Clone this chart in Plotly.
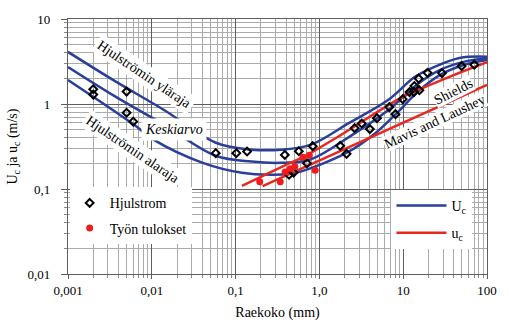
import plotly.graph_objects as go

# ---------------- data (grain size mm, velocity m/s) ----------------
upper_x = [0.001, 0.0036, 0.014, 0.058, 0.155, 0.35, 0.78, 2.27, 6.66, 13.7, 23.5, 47, 100]
upper_y = [4.1, 1.87, 0.85, 0.35, 0.29, 0.29, 0.33, 0.60, 1.12, 2.08, 2.73, 3.48, 3.6]

mean_x = [0.001, 0.0036, 0.014, 0.058, 0.155, 0.35, 0.78, 2.27, 6.66, 14.9, 27.6, 52.5, 100]
mean_y = [2.73, 1.24, 0.57, 0.246, 0.21, 0.203, 0.222, 0.41, 0.85, 1.72, 2.52, 3.13, 3.45]

lower_x = [0.001, 0.006, 0.0106, 0.0406, 0.119, 0.265, 0.45, 0.594, 2.1, 4.69, 8.69, 14.9, 27.6, 52.5, 100]
lower_y = [1.92, 0.58, 0.378, 0.203, 0.155, 0.147, 0.151, 0.16, 0.266, 0.457, 0.81, 1.39, 2.2, 2.88, 3.3]

shields_x = [0.119, 0.377, 0.638, 1.74, 9.4, 33.3, 100]
shields_y = [0.109, 0.187, 0.237, 0.422, 1.18, 2.03, 3.1]

mavis_x = [0.21, 100]
mavis_y = [0.108, 1.68]

hj_x = [0.002, 0.002, 0.005, 0.005, 0.006, 0.058, 0.102, 0.137, 0.387, 0.434, 0.492,
        0.568, 0.711, 0.832, 1.77, 2.11, 2.63, 3.2, 4.0, 4.86, 6.83, 8.09, 9.87, 11.9,
        13.4, 13.6, 15.6, 15.3, 19.5, 29, 49.8, 70.5]
hj_y = [1.49, 1.29, 1.40, 0.79, 0.62, 0.264, 0.264, 0.276, 0.252, 0.147, 0.156,
        0.278, 0.201, 0.319, 0.322, 0.259, 0.52, 0.589, 0.507, 0.681, 0.92, 0.759, 1.14, 1.38,
        1.38, 1.63, 1.45, 1.99, 2.33, 2.31, 2.79, 2.9]

work_x = [0.194, 0.341, 0.39, 0.446, 0.509, 0.638, 0.757, 0.89]
work_y = [0.122, 0.122, 0.158, 0.173, 0.184, 0.237, 0.25, 0.166]

x_ticks = [0.001, 0.01, 0.1, 1, 10, 100]
x_ticktext = ["0,001", "0,01", "0,1", "1,0", "10", "100"]
y_ticks = [0.01, 0.1, 1, 10]
y_ticktext = ["0,01", "0,1", "1", "10"]

BLUE = "#2a3f9c"
RED = "#e8281f"
FONT = "Times New Roman, Liberation Serif, serif"

fig = go.Figure()

for i, (xs, ys) in enumerate([(upper_x, upper_y), (mean_x, mean_y), (lower_x, lower_y)]):
    fig.add_trace(go.Scatter(
        x=xs, y=ys, mode="lines", line=dict(color=BLUE, width=2.5, shape="spline", smoothing=1.0),
        name="U<sub>c</sub>", legend="legend2", showlegend=(i == 0), legendgroup="Uc"))

fig.add_trace(go.Scatter(x=shields_x, y=shields_y, mode="lines",
                         line=dict(color=RED, width=2.5, shape="spline", smoothing=0.8),
                         name="u<sub>c</sub>", legend="legend2", showlegend=True, legendgroup="uc"))
fig.add_trace(go.Scatter(x=mavis_x, y=mavis_y, mode="lines",
                         line=dict(color=RED, width=2.5), showlegend=False, legend="legend2"))

fig.add_trace(go.Scatter(x=hj_x, y=hj_y, mode="markers", name="Hjulstrom",
                         marker=dict(symbol="diamond-open", size=6, color="black", line=dict(width=2, color="black")),
                         legendgroup="hj"))
fig.add_trace(go.Scatter(x=work_x, y=work_y, mode="markers", name="Työn tulokset",
                         marker=dict(symbol="circle", size=7, color="#f01c1c"),
                         legendgroup="work"))

axis_common = dict(
    type="log", showgrid=True, gridcolor="#5e5e5e", gridwidth=1.3,
    ticks="outside", tickcolor="#5e5e5e", tickwidth=1.3,
    showline=True, linecolor="#5e5e5e", linewidth=1.3, mirror=True, zeroline=False,
    tickfont=dict(family=FONT, size=13, color="black"),
    minor=dict(dtick="D1", showgrid=True, gridcolor="#ababab", gridwidth=1,
               ticks="outside", ticklen=3, tickcolor="#8a8a8a"),
)

fig.update_xaxes(range=[-3, 2], tickvals=x_ticks, ticktext=x_ticktext, ticklen=4,
                 title=dict(text="Raekoko (mm)", font=dict(family=FONT, size=14, color="black"), standoff=10),
                 **axis_common)
fig.update_yaxes(range=[-2, 1], tickvals=y_ticks, ticktext=y_ticktext, ticklen=6,
                 ticklabelstandoff=8,
                 title=dict(text="U<sub>c</sub> ja u<sub>c</sub> (m/s)", font=dict(family=FONT, size=14, color="black"), standoff=6),
                 **axis_common)

ann_font = dict(family=FONT, size=14, color="black")
annotations = [
    dict(x=-2.091, y=0.342, text="Hjulströmin yläraja", textangle=34, bgcolor="white", borderpad=2),
    dict(x=-2.231, y=-0.539, text="Hjulströmin alaraja", textangle=34, bgcolor="white", borderpad=2),
    dict(x=-1.741, y=-0.304, text="<i>Keskiarvo</i>", textangle=0, bgcolor="white", borderpad=3),
    dict(x=1.604, y=0.142, text="Shields", textangle=-27, bgcolor="white", borderpad=0),
    dict(x=1.382, y=-0.210, text="Mavis and Laushey", textangle=-25, bgcolor="white", borderpad=0),
]
for a in annotations:
    fig.add_annotation(xref="x", yref="y", showarrow=False, font=ann_font, **a)

fig.update_layout(
    width=509, height=336,
    margin=dict(l=62, r=18, t=19, b=62),
    paper_bgcolor="white", plot_bgcolor="white",
    font=dict(family=FONT, size=13, color="black"),
    legend=dict(x=0.004, y=0.34, xanchor="left", yanchor="top", bgcolor="white",
                font=dict(family=FONT, size=14, color="black"), tracegroupgap=4,
                itemwidth=30, borderwidth=0),
    legend2=dict(x=0.772, y=0.33, xanchor="left", yanchor="top", bgcolor="white",
                 font=dict(family=FONT, size=14, color="black"), tracegroupgap=6,
                 itemwidth=50, borderwidth=0),
)

fig.write_html("out.html")
